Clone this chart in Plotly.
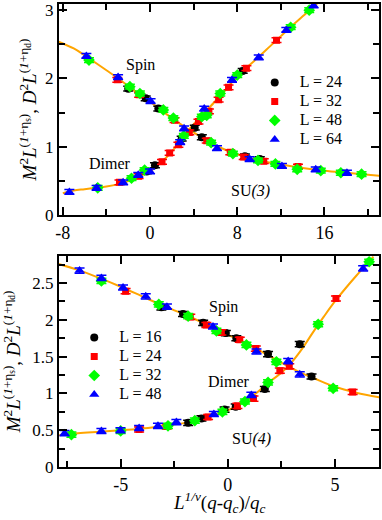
import plotly.graph_objects as go
from plotly.subplots import make_subplots

# ---------------- SU(3) panel (top) ----------------
su3_names = ["L = 24", "L = 32", "L = 48", "L = 64"]
su3_xticks = [-8, 0, 8, 16]
su3_xticktext = ["-8", "0", "8", "16"]

su3_L24_x = [-2.0, -0.4, 0.76, 4.1, 4.75, 8.7, 10.07, -0.3, 0.45, 2.9, 8.5]
su3_L24_y = [1.85, 1.71, 1.56, 1.28, 1.14, 0.86, 0.82, 0.64, 0.73, 1.12, 2.11]

su3_L32_x = [-3.0, -1.0, 2.25, 3.6, 5.2, 7.36, 8.59, 10.43, 13.57,
             -2.8, -1.05, 1.1, 1.8, 2.6, 4.44, 5.4, 6.29, 7.2, 8.84, 11.6]
su3_L32_y = [1.98, 1.76, 1.39, 1.21, 1.09, 0.92, 0.85, 0.79, 0.71,
             0.48, 0.57, 0.78, 0.91, 1.03, 1.37, 1.52, 1.69, 1.87, 2.15, 2.56]

su3_L48_x = [-5.6, -1.85, -0.93, 1.22, 2.14, 5.6, 7.6, 9.9, 11.5, 13.5, 15.66, 17.5, 19.4,
             -4.8, -1.7, -0.5, 3.1, 4.75, 5.2, 6.44, 8.0, 12.9, 14.6]
su3_L48_y = [2.27, 1.88, 1.78, 1.54, 1.42, 1.06, 0.90, 0.80, 0.75, 0.67, 0.65, 0.62, 0.60,
             0.40, 0.54, 0.66, 1.16, 1.44, 1.46, 1.78, 2.05, 2.75, 3.0]

su3_L64_x = [-5.84, -2.93, 0.05, 3.12, 6.14, 9.14, 12.1, 15.2, 18.06,
             -7.4, -4.9, -2.47, -1.08, 0.0, 2.76, 4.97, 7.52, 9.97, 12.5, 15.0]
su3_L64_y = [2.33, 2.02, 1.67, 1.27, 0.98, 0.82, 0.72, 0.67, 0.62,
             0.34, 0.40, 0.48, 0.59, 0.64, 1.07, 1.56, 1.98, 2.31, 2.71, 3.07]

su3_spin_fit_x = [-8.4, -7, -6, -5, -4, -3, -2, -1, 0, 1, 2, 3, 4, 5, 6, 7, 8, 10, 12, 14, 16, 18, 21.2]
su3_spin_fit_y = [2.54, 2.44, 2.34, 2.23, 2.12, 2.01, 1.89, 1.77, 1.66, 1.54, 1.42, 1.31, 1.21,
                  1.11, 1.02, 0.95, 0.89, 0.80, 0.74, 0.69, 0.65, 0.62, 0.575]

su3_dimer_fit_x = [-8, -7, -6, -5, -4, -3, -2, -1, 0, 1, 2, 3, 4, 5, 6, 7, 8, 9, 10, 11, 12, 13, 14, 15, 15.6]
su3_dimer_fit_y = [0.32, 0.36, 0.38, 0.40, 0.42, 0.45, 0.50, 0.57, 0.64, 0.77, 0.93, 1.14, 1.33,
                   1.50, 1.67, 1.85, 2.03, 2.18, 2.32, 2.47, 2.62, 2.77, 2.91, 3.05, 3.14]

# ---------------- SU(4) panel (bottom) ----------------
su4_names = ["L = 16", "L = 24", "L = 32", "L = 48"]
su4_xticks = [-5, 0, 5]
su4_xticktext = ["-5", "0", "5"]

su4_L16_x = [-3.1, -2.09, -1.15, -0.09, 0.4, 1.88, 3.91,
             -1.85, -1.23, -0.15, 0.37, 1.73, 3.36]
su4_L16_y = [2.17, 2.08, 1.96, 1.82, 1.75, 1.535, 1.23,
             0.60, 0.66, 0.78, 0.82, 1.06, 1.67]

su4_L24_x = [-4.77, -1.75, -1.0, -0.3, 0.56, 1.31, 5.83,
             -4.14, -2.85, -0.92, 0.45, 1.2, 2.43, 2.87, 5.05]
su4_L24_y = [2.39, 2.04, 1.93, 1.83, 1.73, 1.61, 1.02,
             0.51, 0.55, 0.68, 0.83, 0.93, 1.31, 1.37, 2.29]

su4_L32_x = [-5.9, -3.22, -1.85, -0.53, 0.87, 2.27, 4.92,
             -7.3, -5.0, -2.79, -1.54, -0.25, 0.8, 1.88, 4.22, 6.6]
su4_L32_y = [2.53, 2.21, 2.05, 1.85, 1.66, 1.43, 1.07,
             0.44, 0.49, 0.56, 0.63, 0.75, 0.89, 1.15, 1.94, 2.79]

su4_L48_x = [-6.92, -5.9, -4.89, -3.83, -2.84, -0.69, 1.34, 3.36,
             -7.62, -5.9, -5.01, -4.14, -3.26, -2.4, -0.65, 1.1, 2.82, 6.32]
su4_L48_y = [2.67, 2.57, 2.44, 2.32, 2.18, 1.91, 1.57, 1.26,
             0.46, 0.49, 0.50, 0.53, 0.56, 0.61, 0.72, 0.98, 1.44, 2.70]

su4_spin_fit_x = [-7.9, -7, -6, -5, -4, -3, -2, -1, 0, 1, 2, 3, 3.5, 4, 5, 6, 7.1]
su4_spin_fit_y = [2.76, 2.68, 2.57, 2.45, 2.32, 2.19, 2.07, 1.94, 1.80, 1.66, 1.50, 1.34, 1.27,
                  1.21, 1.09, 1.01, 0.945]

su4_dimer_fit_x = [-7.9, -7, -6, -5, -4, -3, -2, -1, 0, 1, 2, 2.5, 3, 3.5, 4, 4.5, 5, 5.5, 6, 6.8]
su4_dimer_fit_y = [0.43, 0.46, 0.48, 0.50, 0.52, 0.56, 0.60, 0.67, 0.77, 0.93, 1.17, 1.28, 1.43,
                   1.62, 1.84, 2.05, 2.25, 2.43, 2.60, 2.86]

err = 0.035
colors = ["#000000", "#ff0000", "#00ff00", "#0000ff"]
symbols = ["circle", "square", "diamond", "triangle-up"]
sizes = [8, 7, 9, 9]
fit_color = "#ffa500"
FONT = "Liberation Serif, Times New Roman, serif"

fig = make_subplots(rows=2, cols=1)

# fitted curves (behind the points)
for fx, fy, row in [(su3_spin_fit_x, su3_spin_fit_y, 1), (su3_dimer_fit_x, su3_dimer_fit_y, 1),
                    (su4_spin_fit_x, su4_spin_fit_y, 2), (su4_dimer_fit_x, su4_dimer_fit_y, 2)]:
    fig.add_trace(go.Scatter(x=fx, y=fy, mode="lines", line=dict(color=fit_color, width=2, shape="spline"),
                             showlegend=False, hoverinfo="skip"), row=row, col=1)

su3_series = [(su3_L24_x, su3_L24_y), (su3_L32_x, su3_L32_y), (su3_L48_x, su3_L48_y), (su3_L64_x, su3_L64_y)]
su4_series = [(su4_L16_x, su4_L16_y), (su4_L24_x, su4_L24_y), (su4_L32_x, su4_L32_y), (su4_L48_x, su4_L48_y)]


def legend_name(s):
    return '<span style="font-size:16px">' + s + '</span>'


for i, (sx, sy) in enumerate(su3_series):
    fig.add_trace(go.Scatter(
        x=sx, y=sy, mode="markers", name=legend_name(su3_names[i]), legend="legend",
        marker=dict(symbol=symbols[i], size=sizes[i], color=colors[i], line=dict(width=0)),
        error_y=dict(type="constant", value=err, width=5, thickness=1.5, color=colors[i]),
    ), row=1, col=1)

for i, (sx, sy) in enumerate(su4_series):
    fig.add_trace(go.Scatter(
        x=sx, y=sy, mode="markers", name=legend_name(su4_names[i]), legend="legend2",
        marker=dict(symbol=symbols[i], size=sizes[i], color=colors[i], line=dict(width=0)),
        error_y=dict(type="constant", value=err, width=5, thickness=1.5, color=colors[i]),
    ), row=2, col=1)

axis_common = dict(showline=True, mirror="allticks", linewidth=2, linecolor="black",
                   ticks="inside", ticklen=8, tickwidth=1.5, tickcolor="black",
                   showgrid=False, zeroline=False, automargin=False)
minor_common = dict(ticks="inside", ticklen=6, tickwidth=1.5, tickcolor="black")

ytitle = ("<i>M</i><sup>2</sup><i>L</i><sup>(<i>1</i>+η<sub>s</sub>)</sup>, "
          "<i>D</i><sup>2</sup><i>L</i><sup>(<i>1</i>+η<sub>d</sub>)</sup>")

fig.update_xaxes(row=1, col=1, range=[-8.35, 21], tickvals=su3_xticks, ticktext=su3_xticktext,
                 minor=dict(dtick=4, tick0=0, **minor_common),
                 tickfont=dict(size=18, family=FONT, color="black"), **axis_common)
fig.update_yaxes(row=1, col=1, range=[0, 3.09], dtick=1, domain=[0.544, 1.0],
                 minor=dict(dtick=0.5, **minor_common),
                 tickfont=dict(size=17, family=FONT, color="black"),
                 title=dict(text=ytitle, font=dict(size=19, family=FONT, color="black"), standoff=3),
                 **axis_common)
fig.update_xaxes(row=2, col=1, range=[-7.88, 7.06], tickvals=su4_xticks, ticktext=su4_xticktext,
                 minor=dict(dtick=2.5, tick0=0, **minor_common),
                 tickfont=dict(size=18, family=FONT, color="black"), **axis_common)
fig.update_yaxes(row=2, col=1, range=[0, 2.87], dtick=0.5, domain=[0.0, 0.456],
                 minor=dict(dtick=0.25, **minor_common),
                 tickfont=dict(size=17, family=FONT, color="black"),
                 title=dict(text=ytitle, font=dict(size=19, family=FONT, color="black"), standoff=10),
                 **axis_common)

# x-axis title of the lower panel
fig.add_annotation(text="<i>L</i><sup><i>1/ν</i></sup>(<i>q</i>-<i>q</i><sub><i>c</i></sub>)/<i>q</i><sub><i>c</i></sub>",
                   xref="paper", yref="paper", x=0.5, y=0, yanchor="middle", yshift=-35, showarrow=False,
                   font=dict(size=19, family=FONT, color="black"))

# labels inside panels
labels = [("Spin", -0.9, 2.2, "x", "y"), ("Dimer", -3.7, 0.75, "x", "y"), ("SU<i>(3)</i>", 9.2, 0.35, "x", "y"),
          ("Spin", -0.2, 2.17, "x2", "y2"), ("Dimer", 0.06, 1.16, "x2", "y2"), ("SU<i>(4)</i>", 1.1, 0.38, "x2", "y2")]
for text, lx, ly, xr, yr in labels:
    fig.add_annotation(text=text, x=lx, y=ly, xref=xr, yref=yr, showarrow=False,
                       font=dict(size=16, family=FONT, color="black"))

legend_common = dict(font=dict(size=11, family=FONT, color="black"), bgcolor="rgba(0,0,0,0)",
                     borderwidth=0, itemsizing="trace", itemwidth=40, tracegroupgap=0,
                     yanchor="top", xanchor="left")

fig.update_layout(
    width=382, height=520,
    margin=dict(l=59, r=3, t=4, b=53),
    paper_bgcolor="white", plot_bgcolor="white",
    font=dict(family=FONT, color="black"),
    legend=dict(x=0.596, y=0.862, **legend_common),
    legend2=dict(x=0.032, y=0.311, **legend_common),
)

# remove the browser's default body margin so the 382x520 figure fills the window exactly
fig.write_html("out.html", config={"displayModeBar": False},
               post_script="document.body.style.margin='0px';")
